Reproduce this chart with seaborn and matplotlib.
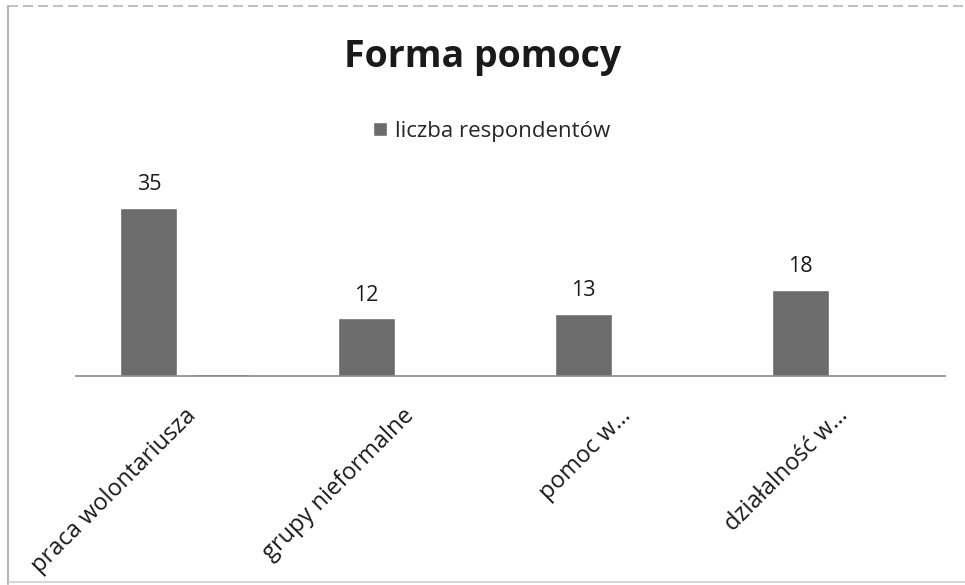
import matplotlib
matplotlib.use("Agg")
import matplotlib.pyplot as plt
from matplotlib.lines import Line2D
import seaborn as sns
import pandas as pd

# Dane
kategorie = ["praca wolontariusza", "grupy nieformalne", "pomoc w\u2026", "dzia\u0142alno\u015b\u0107 w\u2026"]
liczba_respondentow = [35, 12, 13, 18]
seria_2 = [0.4, 0, 0, 0]  # cienki slupek obok pierwszego
nazwa_serii = "liczba respondentów"

W, H = 965, 585

sns.set_style("white")
plt.rcParams['font.family'] = ['Open Sans', 'DejaVu Sans']

df = pd.DataFrame({
    "kategoria": kategorie * 2,
    "seria": [nazwa_serii] * 4 + ["seria 2"] * 4,
    "wartosc": liczba_respondentow + seria_2,
})

fig = plt.figure(figsize=(W / 100, H / 100), dpi=100)
ymax = 38
px_per_unit = 4.8
ax = fig.add_axes([76 / W, (H - 376) / H, (945 - 76) / W, ymax * px_per_unit / H])

sns.barplot(data=df, x="kategoria", y="wartosc", hue="seria", order=kategorie,
            palette=["#6c6c6c", "#555555"], width=0.656, gap=0.2,
            saturation=1, ax=ax, legend=False)

ax.set_ylim(0, ymax)
ax.set_xlim(-0.5, 3.5)
ax.set_xlabel("")
ax.set_ylabel("")
ax.set_yticks([])
for s in ["top", "right", "left"]:
    ax.spines[s].set_visible(False)
ax.spines["bottom"].set_color("#8a8a8a")
ax.spines["bottom"].set_linewidth(1.2)

ax.bar_label(ax.containers[0], fontsize=15.5, padding=9, color="#1a1a1a")

ax.tick_params(axis="x", length=0, pad=20)
plt.setp(ax.get_xticklabels(), rotation=45, ha="right", va="top",
         rotation_mode="anchor", fontsize=17, color="#1a1a1a")

fig.text(0.5, 1 - 57 / H, "Forma pomocy", ha="center", va="center",
         fontsize=27, fontweight="bold", color="#1a1a1a")

ax.legend(handles=[ax.containers[0].patches[0]], labels=[nazwa_serii],
          loc="center", bbox_to_anchor=(492 / W, 1 - 131 / H),
          bbox_transform=fig.transFigure, frameon=False, fontsize=16,
          handlelength=0.6, handleheight=0.6, handletextpad=0.4)

# ramka skanu
szary = "#b5b5b5"
fig.add_artist(Line2D([8 / W, 8 / W], [1 / H, 1 - 6 / H], transform=fig.transFigure, color=szary, lw=1.5))
fig.add_artist(Line2D([8 / W, 1], [1 - 6 / H, 1 - 6 / H], transform=fig.transFigure, color=szary, lw=1.2, ls=(0, (6, 3))))
fig.add_artist(Line2D([8 / W, 1], [3 / H, 3 / H], transform=fig.transFigure, color="#d0d0d0", lw=1.2))

fig.savefig("out.png", dpi=100, facecolor="white")
